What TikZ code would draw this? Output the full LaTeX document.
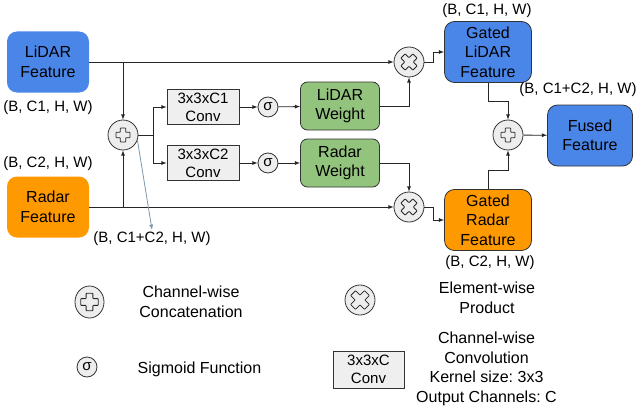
\documentclass[tikz,border=0pt]{standalone}
\usepackage{fontspec}
\setmainfont{Liberation Sans}
\frenchspacing
\usetikzlibrary{arrows,calc,shapes.geometric}
\tikzset{>=latex}
\definecolor{lidarblue}{HTML}{4A86E8}
\definecolor{radarorange}{HTML}{FF9900}
\definecolor{weightgreen}{HTML}{93C47D}
\definecolor{convgray}{HTML}{EFEFEF}
\definecolor{dimarrow}{HTML}{7D96AA}
\tikzstyle{feature}=[rectangle,rounded corners=10pt,align=center,inner sep=0pt,font=\fontsize{16}{19.5}\selectfont]
\tikzstyle{weight}=[rectangle,draw=black!80,fill=weightgreen,line width=0.8pt,rounded corners=7pt,align=center,inner sep=0pt,font=\fontsize{16}{19.5}\selectfont]
\tikzstyle{conv}=[rectangle,draw=black!80,fill=convgray,line width=0.8pt,align=center,inner sep=0pt,font=\fontsize{15}{18}\selectfont]
\tikzstyle{dims}=[inner sep=2pt,font=\fontsize{15}{18}\selectfont]
\tikzstyle{keytext}=[align=center,inner sep=0pt,font=\fontsize{16}{19.7}\selectfont]
\tikzstyle{wire}=[line width=0.8pt,draw=black!85]
\tikzstyle{dimwire}=[line width=0.8pt,draw=dimarrow]
\tikzstyle{symbol}=[line width=0.8pt,draw=black!85,rounded corners=0.6pt]
\tikzset{
  opcirc/.style={circle,draw=black!80,fill=black!7,line width=0.8pt,minimum size=#1pt,inner sep=0pt},
  sigop/.style={opcirc=#1,font=\fontsize{15}{18}\selectfont}
}
\def\plusshape{(2.7pt,7pt) -- (2.7pt,2.7pt) -- (7pt,2.7pt) -- (7pt,-2.7pt) -- (2.7pt,-2.7pt) -- (2.7pt,-7pt)
  -- (-2.7pt,-7pt) -- (-2.7pt,-2.7pt) -- (-7pt,-2.7pt) -- (-7pt,2.7pt) -- (-2.7pt,2.7pt) -- (-2.7pt,7pt) -- cycle}
\def\crossshape{(-3.89pt,8.13pt) -- (0pt,4.24pt) -- (3.89pt,8.13pt) -- (8.13pt,3.89pt) -- (4.24pt,0pt) -- (8.13pt,-3.89pt)
  -- (3.89pt,-8.13pt) -- (0pt,-4.24pt) -- (-3.89pt,-8.13pt) -- (-8.13pt,-3.89pt) -- (-4.24pt,0pt) -- (-8.13pt,3.89pt) -- cycle}

\begin{document}
\begin{tikzpicture}[x=1pt,y=-1pt]
\def \fw {82pt}
\def \fh {61pt}
\def \gw {87pt}
\def \ww {79pt}
\def \wh {48pt}
\def \cw {72pt}
\def \ch {35pt}
\useasboundingbox (0,0) rectangle (639,412);

\node[feature,fill=lidarblue,minimum width=\fw,minimum height=\fh] (lidar) at (48,62) {LiDAR\\Feature};
\node[feature,fill=radarorange,minimum width=\fw,minimum height=\fh] (radar) at (48,207) {Radar\\Feature};
\node[dims] (lidardim) at (48,108) {(B, C1, H, W)};
\node[dims] (radardim) at (48,164) {(B, C2, H, W)};

\node[opcirc=30] (cat) at (123,135) {};
\node[dims] (catdim) at (152,239) {(B, C1+C2, H, W)};
\coordinate (split) at (153,135);

\node[conv,minimum width=\cw,minimum height=\ch] (conv1) at (203,107) {3x3xC1\\Conv};
\node[conv,minimum width=\cw,minimum height=\ch] (conv2) at (203,163) {3x3xC2\\Conv};
\node[sigop=20] (sig1) at (268,107) {σ};
\node[sigop=20] (sig2) at (268,163) {σ};
\node[weight,minimum width=\ww,minimum height=\wh] (lweight) at (340,106) {LiDAR\\Weight};
\node[weight,minimum width=\ww,minimum height=\wh] (rweight) at (340,163) {Radar\\Weight};

\node[opcirc=30] (mul1) at (409,62) {};
\node[opcirc=30] (mul2) at (409,207) {};

\node[feature,fill=lidarblue,draw=black!80,line width=0.8pt,minimum width=\gw,minimum height=\fh] (glidar) at (488,52) {Gated\\LiDAR\\Feature};
\node[feature,fill=radarorange,draw=black!80,line width=0.8pt,minimum width=\gw,minimum height=\fh] (gradar) at (488,220) {Gated\\Radar\\Feature};
\node[dims] (glidardim) at (487,11) {(B, C1, H, W)};
\node[dims] (gradardim) at (490,263) {(B, C2, H, W)};

\node[opcirc=30] (add) at (508,135) {};
\node[feature,fill=lidarblue,draw=black!80,line width=0.8pt,minimum width=85pt,minimum height=\fh] (fused) at (590,135.5) {Fused\\Feature};
\node[dims] (fuseddim) at (578,90) {(B, C1+C2, H, W)};

% wires
\draw[wire,->] (lidar.east) -- (mul1.west);
\draw[wire,->] (cat.north |- lidar.east) -- (cat.north);
\draw[wire,->] (radar.east) -- (mul2.west);
\draw[wire,->] (cat.south |- radar.east) -- (cat.south);
\draw[wire] (cat.east) -- (split);
\draw[wire,->] (split) |- (conv1.west);
\draw[wire,->] (split) |- (conv2.west);
\draw[wire,->] (conv1) -- (sig1);
\draw[wire,->] (conv2) -- (sig2);
\draw[wire,->] (sig1) -- (lweight);
\draw[wire,->] (sig2) -- (rweight);
\draw[wire,->] (lweight.east) -| (mul1.south);
\draw[wire,->] (rweight.east) -| (mul2.north);
\draw[wire,->] (mul1.east) -- ++(9,0) |- (glidar.west);
\draw[wire,->] (mul2.east) -- ++(9,0) |- (gradar.west);
\draw[wire,->] (glidar.south) -- ++(0,18) -| (add.north);
\draw[wire,->] (gradar.north) -- ++(0,-19) -| (add.south);
\draw[wire,->] (add) -- (fused);
\draw[dimwire,->] (cat.-20) -- (catdim.north);

% legend
\node[ellipse,draw=black!80,fill=black!7,line width=0.8pt,minimum width=29pt,minimum height=32pt,inner sep=0pt] (catkey) at (89.5,302) {};
\node[keytext] (catkeytxt) at (191,302) {Channel-wise\\Concatenation};
\node[opcirc=30] (mulkey) at (360,300) {};
\node[keytext] (mulkeytxt) at (487,298) {Element-wise\\Product};
\node[sigop=20] (sigkey) at (87,367) {σ};
\node[keytext] (sigkeytxt) at (199.5,369) {Sigmoid Function};
\node[conv,minimum width=71pt,minimum height=37pt] (convkey) at (368.5,369.5) {3x3xC\\Conv};
\node[keytext] (convkeytxt) at (486.5,369) {Channel-wise\\Convolution\\Kernel size: 3x3\\Output Channels: C};

% symbols inside the circles
\foreach \n/\s in {cat/1,add/1,catkey/1.25}
  \draw[symbol,shift={(\n.center)},scale=\s] \plusshape;
\foreach \n/\s in {mul1/1,mul2/1,mulkey/1.15}
  \draw[symbol,shift={(\n.center)},scale=\s] \crossshape;

\end{tikzpicture}
\end{document}
